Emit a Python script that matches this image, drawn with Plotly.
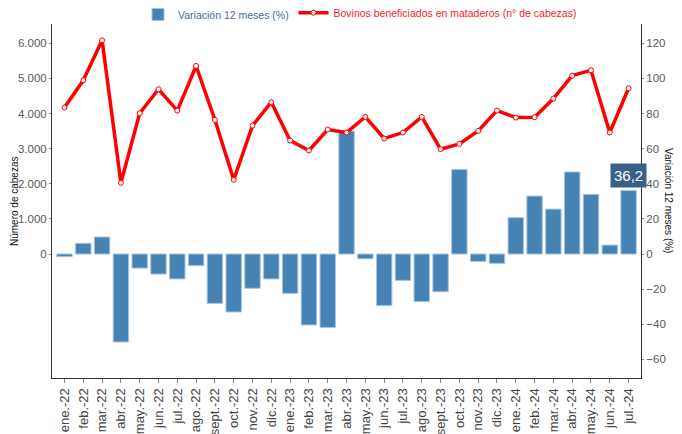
import plotly.graph_objects as go

months = ["ene.-22","feb.-22","mar.-22","abr.-22","may.-22","jun.-22","jul.-22","ago.-22",
          "sept.-22","oct.-22","nov.-22","dic.-22","ene.-23","feb.-23","mar.-23","abr.-23",
          "may.-23","jun.-23","jul.-23","ago.-23","sept.-23","oct.-23","nov.-23","dic.-23",
          "ene.-24","feb.-24","mar.-24","abr.-24","may.-24","jun.-24","jul.-24"]

variacion = [-1.5, 6.1, 9.7, -50.1, -8.0, -11.4, -14.2, -6.6, -28.1, -33.0, -19.5, -14.2,
             -22.4, -40.4, -41.8, 70.0, -2.7, -29.4, -15.0, -27.1, -21.5, 48.2, -4.2, -5.3,
             20.7, 33.0, 25.6, 46.7, 34.0, 5.1, 36.2]

bovinos = [4170, 4947, 6085, 2028, 4009, 4691, 4085, 5355, 3820, 2114, 3658, 4322,
           3232, 2948, 3545, 3459, 3905, 3289, 3459, 3905, 2985, 3137, 3507, 4085,
           3886, 3895, 4426, 5080, 5232, 3459, 4720]

left_ticks = [0, 1000, 2000, 3000, 4000, 5000, 6000]
right_ticks = [-60, -40, -20, 0, 20, 40, 60, 80, 100, 120]

SANS = "Liberation Sans, Arial, sans-serif"
TICKC = "#5a5a5a"
AXC = "#333333"

fig = go.Figure()
fig.add_trace(go.Bar(
    x=months, y=variacion, name="Variación 12 meses (%)",
    marker=dict(color="#4682B4", line=dict(color="#a9c4dd", width=1)),
    yaxis="y", legend="legend",
))
fig.add_trace(go.Scatter(
    x=months, y=bovinos, name="Bovinos beneficiados en mataderos (n° de cabezas)",
    mode="lines+markers",
    line=dict(color="#ff0000", width=3.5),
    marker=dict(symbol="circle", size=5, color="white", line=dict(color="#ff0000", width=1)),
    yaxis="y2", legend="legend2",
))

rmin, rmax = -70.6, 131.0
scale = 50.0  # 1000 cabezas = 20 %

last = len(months) - 1
fig.add_annotation(
    x=months[last], y=variacion[last], xref="x", yref="y",
    text=f"{variacion[last]:.1f}".replace(".", ","),
    showarrow=False, yanchor="bottom", yshift=2,
    font=dict(family=SANS, size=15, color="white"),
    bgcolor="#3b6088", borderpad=3,
)
fig.add_annotation(
    x=-0.0645, y=0.5, xref="paper", yref="paper", text="Número de cabezas",
    textangle=-90, showarrow=False, xanchor="center", yanchor="middle",
    font=dict(family=SANS, size=10, color="#111111"),
)
fig.add_annotation(
    x=1.0475, y=0.5, xref="paper", yref="paper", text="Variación 12 meses (%)",
    textangle=90, showarrow=False, xanchor="center", yanchor="middle",
    font=dict(family=SANS, size=10, color="#111111"),
)

fig.update_layout(
    width=674, height=426,
    margin=dict(l=44, r=41, t=16, b=56, autoexpand=False),
    paper_bgcolor="white", plot_bgcolor="white",
    separators=",.",
    bargap=0.18,
    showlegend=True,
    xaxis=dict(
        type="category", range=[-0.664, 30.66], automargin=False,
        showline=True, linecolor=AXC, linewidth=1,
        ticks="outside", ticklen=4, tickcolor="#888888",
        tickangle=-90, tickfont=dict(family=SANS, size=13, color="#444444"),
        showgrid=False, zeroline=False,
    ),
    yaxis=dict(
        side="right", range=[rmin, rmax], automargin=False,
        tickvals=right_ticks, ticks="outside", ticklen=2, tickcolor="#888888",
        tickfont=dict(family=SANS, size=11.5, color=TICKC),
        showline=True, linecolor=AXC, linewidth=1,
        showgrid=False, zeroline=False,
    ),
    yaxis2=dict(
        side="left", overlaying="y", range=[rmin * scale, rmax * scale], automargin=False,
        tickvals=left_ticks, tickformat=",d", ticks="outside", ticklen=2, tickcolor="#888888",
        tickfont=dict(family=SANS, size=11.5, color=TICKC),
        showline=True, linecolor=AXC, linewidth=1,
        showgrid=False, zeroline=False,
    ),
    legend=dict(
        x=0.146, y=1.027, xanchor="left", yanchor="middle", orientation="h",
        font=dict(family=SANS, size=10.5, color="#4a6e90"),
        bgcolor="rgba(0,0,0,0)", itemwidth=30,
    ),
    legend2=dict(
        x=0.41, y=1.032, xanchor="left", yanchor="middle", orientation="h",
        font=dict(family=SANS, size=10.5, color="#ff2020"),
        bgcolor="rgba(0,0,0,0)", itemwidth=30,
    ),
)

fig.write_html("out.html")
